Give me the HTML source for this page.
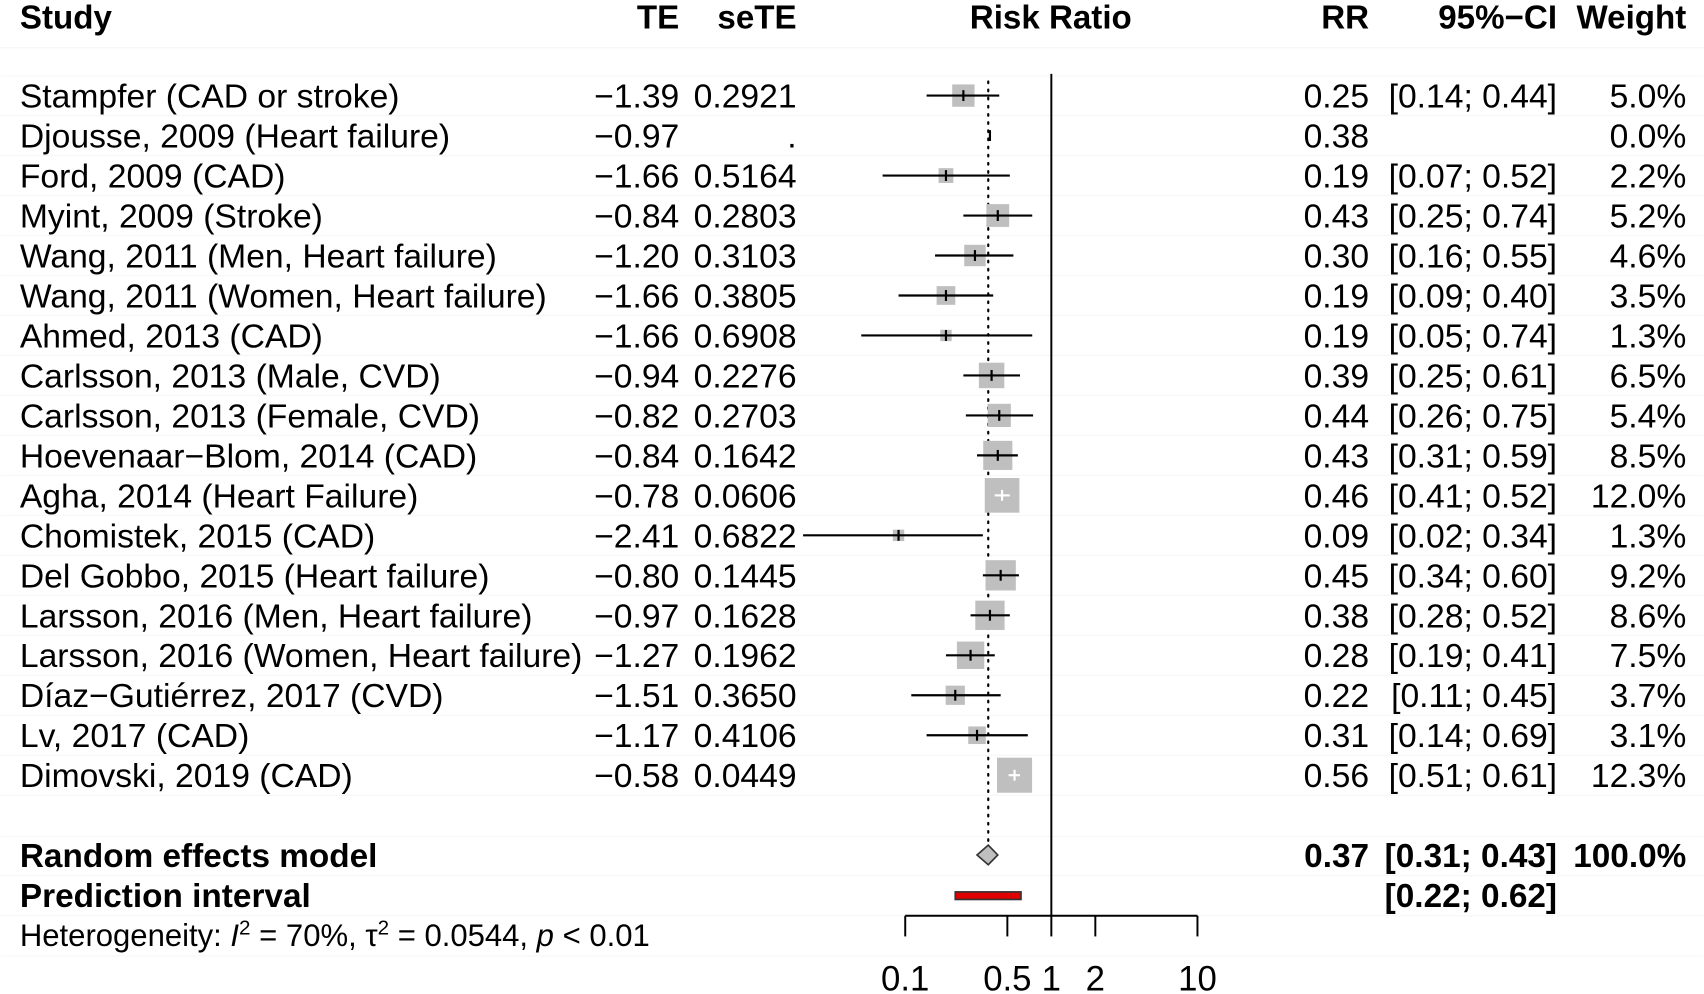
<!DOCTYPE html>
<html><head><meta charset="utf-8"><style>
html,body{margin:0;padding:0;background:#fff;}
svg{display:block;font-family:"Liberation Sans",Arial,sans-serif;}
</style></head><body>
<svg id="chart" width="1704" height="994" viewBox="0 0 1568 915" xmlns="http://www.w3.org/2000/svg">
<g id="grid"></g>
<g font-weight="bold" font-size="30.5">
<text x="18" y="26">Study</text>
<text x="625" y="26" text-anchor="end">TE</text>
<text x="733" y="26" text-anchor="end">seTE</text>
<text x="967" y="26" text-anchor="middle">Risk Ratio</text>
<text x="1260" y="26" text-anchor="end">RR</text>
<text x="1433" y="26" text-anchor="end">95%−CI</text>
<text x="1552" y="26" text-anchor="end">Weight</text>
</g>
<g id="rows" font-size="31"></g>
<g id="plot"></g>
<g font-size="30.7" font-weight="bold">
<text x="18" y="798">Random effects model</text>
<text x="1260" y="798" text-anchor="end">0.37</text>
<text x="1433" y="798" text-anchor="end">[0.31; 0.43]</text>
<text x="1552" y="798" text-anchor="end">100.0%</text>
<text x="18" y="835">Prediction interval</text>
<text x="1433" y="835" text-anchor="end">[0.22; 0.62]</text>
</g>
<text x="18" y="871" font-size="28.6">Heterogeneity: <tspan font-style="italic">I</tspan><tspan dy="-11" font-size="19">2</tspan><tspan dy="11"> = 70%, τ</tspan><tspan dy="-11" font-size="19">2</tspan><tspan dy="11"> = 0.0544, </tspan><tspan font-style="italic">p</tspan> &lt; 0.01</text>
</svg>
<script>
const studies=["Stampfer (CAD or stroke)","Djousse, 2009 (Heart failure)","Ford, 2009 (CAD)","Myint, 2009 (Stroke)","Wang, 2011 (Men, Heart failure)","Wang, 2011 (Women, Heart failure)","Ahmed, 2013 (CAD)","Carlsson, 2013 (Male, CVD)","Carlsson, 2013 (Female, CVD)","Hoevenaar−Blom, 2014 (CAD)","Agha, 2014 (Heart Failure)","Chomistek, 2015 (CAD)","Del Gobbo, 2015 (Heart failure)","Larsson, 2016 (Men, Heart failure)","Larsson, 2016 (Women, Heart failure)","Díaz−Gutiérrez, 2017 (CVD)","Lv, 2017 (CAD)","Dimovski, 2019 (CAD)"];
const te=["−1.39","−0.97","−1.66","−0.84","−1.20","−1.66","−1.66","−0.94","−0.82","−0.84","−0.78","−2.41","−0.80","−0.97","−1.27","−1.51","−1.17","−0.58"];
const sete=["0.2921",".","0.5164","0.2803","0.3103","0.3805","0.6908","0.2276","0.2703","0.1642","0.0606","0.6822","0.1445","0.1628","0.1962","0.3650","0.4106","0.0449"];
const rr=[0.25,0.38,0.19,0.43,0.30,0.19,0.19,0.39,0.44,0.43,0.46,0.09,0.45,0.38,0.28,0.22,0.31,0.56];
const lower=[0.14,null,0.07,0.25,0.16,0.09,0.05,0.25,0.26,0.31,0.41,0.02,0.34,0.28,0.19,0.11,0.14,0.51];
const upper=[0.44,null,0.52,0.74,0.55,0.40,0.74,0.61,0.75,0.59,0.52,0.34,0.60,0.52,0.41,0.45,0.69,0.61];
const weight=[5.0,0.0,2.2,5.2,4.6,3.5,1.3,6.5,5.4,8.5,12.0,1.3,9.2,8.6,7.5,3.7,3.1,12.3];
const pooled=[0.37,0.31,0.43];
const predInt=[0.22,0.62];
const ticks=[0.1,0.5,1,2,10];
const tickLabels=["0.1","0.5","1","2","10"];

const NS="http://www.w3.org/2000/svg";
const x=v=>967.5+134.5*Math.log10(v);
const rowY=i=>88+i*36.8;
function mk(tag,attrs,parent,txt){const e=document.createElementNS(NS,tag);for(const k in attrs)e.setAttribute(k,attrs[k]);if(txt!=null)e.textContent=txt;parent.appendChild(e);return e;}
const grid=document.getElementById('grid'),rows=document.getElementById('rows'),plot=document.getElementById('plot');
[44,70].concat(studies.map((s,i)=>rowY(i)+18.4)).concat([770,806,843,880]).forEach(y=>{
 const l=mk('line',{x1:0,x2:1568,y1:y,y2:y,stroke:'#f6f6f6','stroke-width':1},grid);
 
 
});
const ref=mk('line',{x1:x(1),x2:x(1),y1:68,y2:843,stroke:'#000','stroke-width':1.8},plot);


const dl=mk('line',{x1:x(pooled[0]),x2:x(pooled[0]),y1:75,y2:778,stroke:'#000','stroke-width':2,'stroke-dasharray':'1.5 6','stroke-linecap':'round'},plot);


studies.forEach((s,i)=>{
 const y=rowY(i),b=y+11;
 const g=mk('g',{},rows);
 
 
 mk('text',{x:18,y:b},g,s);
 mk('text',{x:625,y:b,'text-anchor':'end'},g,te[i]);
 mk('text',{x:733,y:b,'text-anchor':'end'},g,sete[i]);
 mk('text',{x:1260,y:b,'text-anchor':'end'},g,rr[i].toFixed(2));
 if(lower[i]!=null) mk('text',{x:1433,y:b,'text-anchor':'end'},g,'['+lower[i].toFixed(2)+'; '+upper[i].toFixed(2)+']');
 mk('text',{x:1552,y:b,'text-anchor':'end'},g,weight[i].toFixed(1)+'%');
 const m=mk('g',{},plot);
 
 
 const cx=x(rr[i]);
 if(weight[i]>0){
  const sz=9.2*Math.sqrt(weight[i]);
  mk('rect',{x:cx-sz/2,y:y-sz/2,width:sz,height:sz,fill:'#bfbfbf'},m);
  const lo=x(lower[i]),hi=x(upper[i]);
  const inside=(lo>cx-sz/2)&&(hi<cx+sz/2);
  const col=inside?'#fff':'#000';
  mk('line',{x1:lo,x2:hi,y1:y,y2:y,stroke:col,'stroke-width':2},m);
  mk('line',{x1:cx,x2:cx,y1:y-5,y2:y+5,stroke:col,'stroke-width':2},m);
 } else {
  mk('line',{x1:cx,x2:cx,y1:y-5,y2:y+5,stroke:'#000','stroke-width':2},m);
 }
});
const yd=787;
const dia=mk('polygon',{points:`${x(pooled[1])},${yd} ${x(pooled[0])},${yd-9} ${x(pooled[2])},${yd} ${x(pooled[0])},${yd+9}`,fill:'#bfbfbf',stroke:'#333','stroke-width':1.5},plot);


const pi=mk('rect',{x:x(predInt[0]),y:821,width:x(predInt[1])-x(predInt[0]),height:7,fill:'#e00000',stroke:'#333','stroke-width':1.5},plot);


const ax=mk('g',{},plot);


mk('line',{x1:x(ticks[0]),x2:x(ticks[ticks.length-1]),y1:843,y2:843,stroke:'#000','stroke-width':1.8},ax);
ticks.forEach((t,i)=>{
 const tx=x(t);
 const tk=mk('line',{x1:tx,x2:tx,y1:843,y2:862,stroke:'#000','stroke-width':1.8},ax);
 
 
 const lb=mk('text',{x:tx,y:912,'text-anchor':'middle','font-size':32},ax,tickLabels[i]);
 
 
});
</script>
</body></html>
